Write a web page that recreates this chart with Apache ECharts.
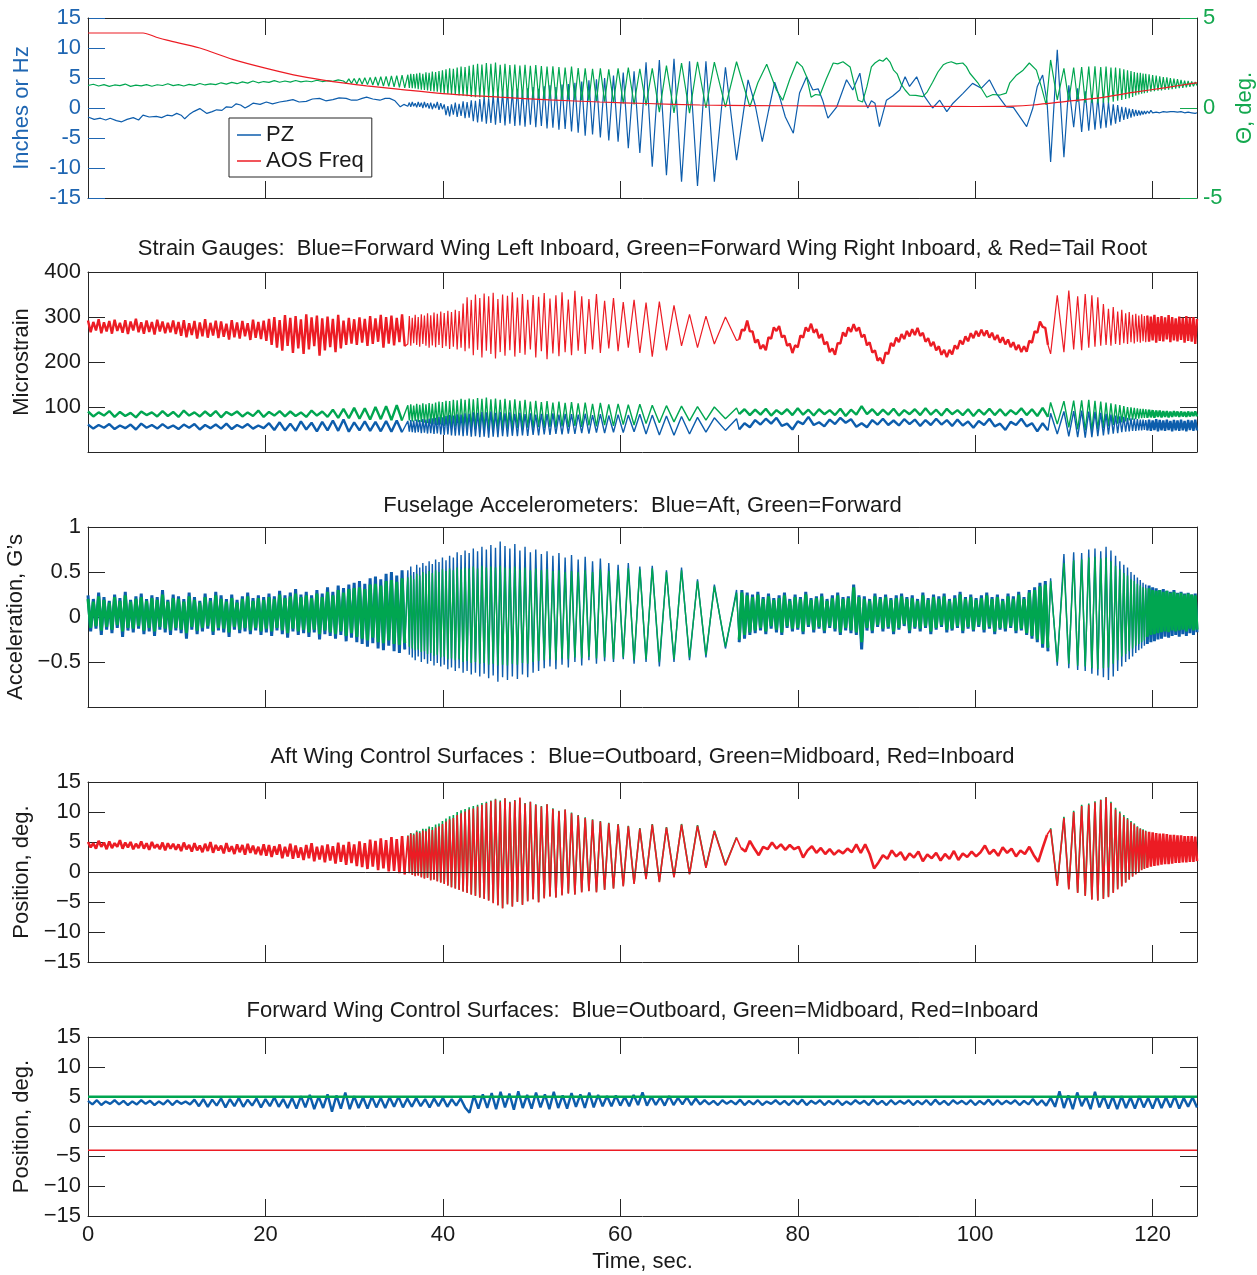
<!DOCTYPE html>
<html>
<head>
<meta charset="utf-8">
<title>Flutter test time histories</title>
<script src="https://cdn.jsdelivr.net/npm/echarts@6/dist/echarts.min.js"></script>
<style>
  html, body { margin: 0; padding: 0; background: #fff; }
  #chart { width: 1257px; height: 1275px; }
</style>
</head>
<body>
<div id="chart"></div>
<script>
// Time bases: peaks/troughs of the forcing sweep
const tB = [36.05,36.22,36.38,36.55,36.71,36.88,37.05,37.22,37.39,37.57,37.74,37.92,38.09,38.27,38.45,38.63,38.81,39.0,39.18,39.37,
  39.56,39.76,39.95,40.15,40.35,40.56,40.76,40.97,41.18,41.4,41.61,41.83,42.05,42.28,42.5,42.73,42.96,43.2,43.43,43.67,
  43.91,44.16,44.4,44.65,44.9,45.16,45.41,45.67,45.93,46.2,46.46,46.73,47.0,47.28,47.55,47.83,48.11,48.4,48.68,48.97,
  49.26,49.56,49.86,50.17,50.47,50.79,51.1,51.42,51.74,52.07,52.4,52.74,53.08,53.43,53.78,54.14,54.5,54.88,55.25,55.65,
  56.04,56.46,56.87,57.31,57.75,58.23,58.7,59.23,59.75,60.33,60.9,61.55,62.2,62.9,63.6,64.4,65.2,66.05,66.9,67.8,
  68.7,69.65,70.6,71.85,73.1];
const tD = [108.5,109.25,110.0,110.55,111.1,111.55,112.0,112.4,112.8,113.15,113.5,113.82,114.15,114.45,114.75,115.02,115.3,115.56,115.82,116.06,
  116.3,116.52,116.75,116.96,117.17,117.36,117.56,117.74,117.93,118.1,118.28,118.44,118.61,118.76,118.92,119.07,119.22];
const endTimes = [0, 125];

// ---- Panel 1: PZ (in), AOS frequency (Hz), Theta (deg)
const pzA = [[0,-1.5],[0.7,-1.9],[1.4,-1.7],[2,-2.0],[2.5,-1.7],[3.2,-2.1],[3.8,-2.3],[4.4,-1.9],[5.1,-1.6],[5.7,-2.0],[6.2,-1.2],[6.9,-1.5],
  [7.7,-1.4],[8.3,-1.6],[8.9,-1.2],[9.5,-1.3],[10,-0.9],[10.5,-1.2],[10.9,-1.8],[11.4,-1.1],[11.9,-0.6],[12.6,-0.1],[13.4,-0.9],[14,-0.6],
  [14.5,-0.3],[15.1,-0.4],[15.6,0.2],[16.2,0.1],[16.7,0.7],[17.2,0.5],[17.7,0],[18.2,0.4],[18.6,0.8],[19.4,0.6],[20.1,1.0],[20.8,0.7],
  [21.6,1.0],[22.4,1.2],[23.1,1.4],[23.8,1.0],[24.6,1.1],[25.3,1.5],[26.1,1.6],[26.8,1.2],[27.6,1.4],[28.3,1.7],[29.1,1.6],[29.7,1.3],
  [30.3,1.3],[30.9,1.6],[31.4,1.8],[32.1,1.5],[32.9,1.3],[33.5,1.6],[34,1.6],[34.6,1.2],[35.2,0.2],[35.6,0.6]];
const pzB = [0.3,0.9,0.2,1.0,0.3,0.8,0.1,1.0,0.2,0.9,0.0,1.0,0.1,0.8,-0.1,0.9,-0.2,0.7,0.0,1.0,
  -0.3,0.8,-0.2,0.6,-1.2,0.3,-1.4,0.6,-1.1,0.9,-1.5,0.7,-1.3,1.1,-1.7,1.0,-1.6,1.3,-2.2,1.2,
  -2.4,1.5,-2.3,1.9,-2.6,1.6,-2.5,2.2,-2.8,2.4,-2.5,2.6,-2.9,3.0,-2.6,2.8,-3.0,3.2,-2.9,2.9,
  -3.1,3.3,-2.8,3.5,-3.2,3.2,-3.0,3.6,-3.4,3.8,-3.3,3.5,-3.6,3.9,-3.5,4.0,-3.9,4.2,-4.1,4.4,
  -4.6,4.6,-4.4,4.8,-4.9,5.0,-5.4,5.4,-5.6,5.9,-6.7,6.1,-7.5,7.6,-9.8,8.0,-11.2,8.2,-12.3,7.8,
  -13.0,7.8,-12.3,6.8,-8.7];
const pzC = [[74.4,4.7],[75.2,0.5],[76,-5.6],[76.7,-0.5],[77.4,4.3],[78,1.6],[78.6,-1.5],[79.5,-4.2],[80.2,2.5],[81,5.2],[81.7,3],[82.3,3.2],
  [82.8,1.3],[83.4,-1.7],[84.4,0.2],[85.5,4.7],[86.2,3],[87,5.8],[87.5,1.3],[87.9,0],[88.3,1.2],[88.7,0.8],[89.2,-3.1],[90,1.3],[90.7,2],
  [91.5,3],[92.1,5.2],[92.6,3.6],[93.4,5.2],[94.3,1.9],[95.2,0],[96,1.3],[96.8,-0.6],[97.5,0.8],[98.6,2.4],[99.7,4.1],[100.7,3.3],
  [101.6,4.7],[102.4,2.4],[103.5,0.2],[104.3,0.1],[105,-1.4],[105.8,-3.1],[106.5,0],[107,3.6],[107.6,5.5],[108.1,1.0]];
const pzD = [-9.0,9.7,-8.2,3.8,-3.2,3.3,-4.0,2.8,-3.8,2.2,-3.6,1.8,-3.4,1.3,-3.3,1.0,-2.9,0.6,-2.6,0.5,
  -2.3,0.2,-2.0,0.1,-1.8,-0.1,-1.6,-0.2,-1.4,-0.3,-1.3,-0.4,-1.2,-0.5,-1.1,-0.5,-1.0];
const pzE = [-0.5,-0.9,-0.4,-0.8,-0.5,-0.7,-0.4,-0.8,-0.5,-0.6,-0.4,-0.7,-0.5,-0.6,-0.4,-0.6,-0.5,-0.7,-0.5,-0.6,
  -0.6,-0.8,-0.6,-0.7,-0.6,-0.8,-0.7,-0.9,-0.8];

const aosFreq = [[0,12.5],[6.2,12.5],[7.7,11.8],[8.9,11.3],[12.6,10],[16.3,8.1],[20.1,6.6],[23.9,5.3],[27.6,4.4],[31.4,3.7],[35.2,3.1],
  [40,2.4],[46.4,1.8],[52,1.35],[57.7,1.0],[63,0.75],[69,0.5],[75,0.4],[82.5,0.35],[90,0.3],[100,0.25],[104.3,0.3],[106.5,0.5],
  [110.3,1.1],[114,1.7],[117.8,2.6],[121.5,3.4],[124.5,4.1],[125,4.2]];

const thetaA1 = [1.25,1.32,1.22,1.3,1.2,1.28,1.24,1.33,1.2,1.27,1.23,1.3,1.21,1.29,1.25,1.35,1.24,1.3,1.22,1.31,
  1.26,1.36,1.28,1.34,1.3,1.4,1.33,1.42,1.35,1.45,1.38,1.5,1.4,1.47,1.42,1.52,1.43,1.5,1.44,1.53,
  1.45,1.5,1.46,1.54,1.47,1.52,1.48,1.56,1.5];
const thetaA2 = [1.38,1.62,1.36,1.64,1.33,1.66,1.32,1.68,1.3,1.7,1.28,1.72,1.25,1.74,1.22,1.76,1.2,1.78,1.18,1.8,1.15,1.82,1.12];
const thetaB = [1.85,1.12,1.9,1.1,1.88,1.08,1.92,1.05,1.95,1.02,1.9,1.0,1.98,0.98,1.96,0.95,2.02,0.92,2.0,0.9,
  2.05,0.85,2.1,0.8,2.15,0.78,2.2,0.75,2.18,0.72,2.25,0.7,2.3,0.68,2.28,0.65,2.35,0.62,2.4,0.6,
  2.45,0.58,2.42,0.57,2.5,0.55,2.45,0.58,2.52,0.55,2.4,0.56,2.46,0.55,2.38,0.57,2.42,0.54,2.36,0.56,
  2.4,0.52,2.35,0.5,2.38,0.52,2.33,0.48,2.3,0.5,2.32,0.47,2.28,0.45,2.25,0.46,2.3,0.43,2.22,0.42,
  2.2,0.4,2.18,0.38,2.2,0.35,2.15,0.3,2.2,0.25,2.25,0.2,2.18,0.15,2.2,-0.23,2.35,-0.27,2.5,-0.28,
  2.57,0.0,2.55,0.05,2.57];
const thetaC = [[74.6,0.07],[75.5,1.4],[76.5,2.43],[77.6,1.0],[78.3,0.43],[79.1,1.6],[79.9,2.57],[80.5,2.3],[81.0,1.73],[81.5,0.6],
  [82.0,0.75],[82.5,0.72],[83.2,1.6],[84.0,2.5],[84.5,2.45],[85.1,2.57],[85.9,2.28],[86.8,0.43],[87.3,0.33],[87.8,1.2],[88.3,2.28],
  [88.7,2.5],[89.2,2.67],[89.6,2.6],[90.0,2.78],[90.4,2.55],[90.8,2.1],[91.2,1.9],[91.7,1.28],[92.1,1.0],[92.6,0.72],[93.3,0.7],
  [94.1,0.63],[94.6,0.9],[95.2,1.43],[95.8,2.0],[96.4,2.4],[96.8,2.5],[97.3,2.57],[97.9,2.45],[98.6,2.5],[99.0,2.3],[99.4,1.93],
  [100.3,1.4],[100.8,1.0],[101.3,0.6],[102.0,0.75],[102.8,0.72],[103.5,0.83],[103.9,1.4],[104.6,1.8],[105.4,2.1],[106.1,2.5],
  [106.9,2.1],[107.5,1.1],[108.0,0.17]];
const thetaD = [2.67,0.45,2.2,0.4,2.25,0.35,2.28,0.3,2.3,0.28,2.32,0.25,2.28,0.3,2.3,0.3,2.25,0.35,2.25,0.4,
  2.2,0.45,2.15,0.5,2.1,0.55,2.05,0.62,2.0,0.7,1.95,0.75,1.95,0.8,1.92,0.82,1.9];
const thetaE = [0.85,1.87,0.9,1.83,0.93,1.8,0.96,1.76,0.98,1.72,1.0,1.7,1.02,1.66,1.05,1.63,1.08,1.6,1.1,1.56,
  1.12,1.52,1.15,1.5,1.18,1.47,1.2,1.45,1.25];

// ---- Panel 2: strain gauges (microstrain)
const tailA = [292,266,289,270,295,264,288,268,291,263,294,269,287,265,293,262,290,270,296,266,288,263,292,267,289,261,294,268,290,264,287,266,292,262,
  289,258,293,255,286,260,291,252,288,257,295,254,287,259,292,253,290,256,285,250,293,255,288,252,291,257,286,249,294,254,289,251,292,
  247,296,238,300,232,293,225,304,236,298,220,302,230,295,218,306,228,299,235,303,214,297,226,301,233,296,222,305,230,292,238,298,241,295,
  238,299,243,296,236,302,240,297,245,305,232,300,241,303,237,298,244,306,235];
const tailB = [240,302,236,298,242,305,238,300,234,306,240,303,236,308,232,304,237,310,233,307,
  238,312,231,309,235,314,229,311,234,316,228,313,232,330,224,344,230,338,215,350,
  227,342,210,352,225,346,218,354,208,340,222,350,214,347,226,355,212,343,220,351,
  216,338,228,349,210,345,224,353,206,341,219,348,213,355,222,339,215,358,225,346,
  218,340,228,351,220,336,230,342,224,333,232,338,220,332,212,334,226,326,236,306,
  232,302,240,300,248];
const tailC = [250,272,270,292,268,268,243,250,229,238,226,255,252,277,269,280,255,259,236,241,
  220,237,233,259,254,277,268,285,265,273,253,262,239,245,222,230,216,242,241,266,
  257,277,267,284,269,277,255,261,237,244,221,226,203,209,196,221,218,242,235,254,
  244,262,251,269,257,273,260,276,258,265,245,253,235,245,226,235,216,227,211,227,
  217,237,229,248,239,257,246,264,253,269,257,272,258,270,254,265,249,260,243,255,
  239,250,233,244,227,238,222,235,223,247,243,268,265,290,278,276,238];
const tailD = [218,348,222,359,228,346,226,351,232,348,234,344,236,329,238,318,236,322,240,312,
  238,316,242,308,240,311,244,305,241,307,245,303,243,306,246,302,244];
const tailE = [303,245,301,248,305,243,300,247,302,246,299,250,304,244,300,248,297,246,301,249,298,243,302,247,299,245,300,240,296];

const rightInA = [90,79,88,81,91,78,89,80,87,77,90,82,88,79,91,80,89,78,92,81,88,79,90,80,91,77,89,82,90,79,
  88,80,92,78,89,81,91,79,90,80,88,78,92,81,90,78,94,76,96,75,98,74,97,72,100,73,102,71,104,70];
const rightInB = [104,70,106,68,103,69,107,66,105,67,108,65,106,64,109,63,107,62,110,60,
  112,61,111,58,114,57,113,55,116,56,115,53,118,54,116,51,119,52,117,50,
  120,51,118,49,121,50,117,48,119,51,116,49,118,52,115,50,117,53,114,51,
  116,54,112,52,114,55,111,53,113,56,110,54,112,57,109,55,111,58,108,56,
  110,59,107,57,109,60,106,58,107,61,105,60,106,63,104,65,103,67,102,69,
  101,71,100,74,98];
const rightInC = [84,95,82,94,83,96,81,93,84,95,82,97,83,94,81,95,84,93,82,96,80,94,83,102,84,95,82,94,83,96,
  81,93,84,95,82,97,83,94,81,96,84,93,82,95,80,94,83,96,82,95,81,93,84,97,82,95,80,98,78];
const rightInD = [110,62,113,55,114,50,115,48,116,47,114,50,112,53,110,57,108,60,106,63,104,66,102,68,100,70,99,72,98,73,97,74,96,75,96,76,95];
const rightInE = [76,94,77,93,76,92,78,92,77,91,78,91,77,90,78,91,79,90,78,90,79,89,78,90,79,89,80,90,79];

const leftInA = [61,52,60,54,62,51,59,53,61,50,63,54,60,52,62,53,59,51,61,54,62,50,60,53,61,52,63,51,60,54,62,52,59,53,
  64,49,66,48,63,47,68,50,65,46,67,48,70,47,72,45,66,48,68,47,67,46,69,45,70,44];
const leftInB = [69,45,71,44,70,43,72,44,71,42,73,43,72,41,74,42,75,40,76,41,
  78,39,77,38,80,39,82,37,81,36,84,37,83,35,86,36,85,34,88,35,
  87,33,89,34,88,32,90,34,87,33,89,35,86,34,88,36,85,35,87,37,
  84,36,86,38,83,37,85,39,84,38,86,40,83,39,85,41,84,40,83,42,
  85,41,82,43,84,42,81,44,83,43,82,45,84,40,82,38,80,37,79,40,
  77,44,76,48,74];
const leftInC = [50,64,55,71,61,74,63,76,58,63,50,68,62,78,60,66,57,72,62,76,65,73,56,64,55,71,61,74,60,70,
  59,73,62,72,58,71,60,74,61,71,58,72,59,68,54,69,60,74,57,63,49,67,60,74,57,64,46,64,48];
const leftInD = [86,40,90,35,91,33,92,32,90,33,89,35,87,37,85,39,83,41,81,42,79,44,78,45,76,46,75,47,74,47,73,48,72,48,72,49,71];
const leftInE = [48,72,47,70,49,73,46,71,48,70,47,72,49,69,46,71,48,70,47,72,48,69,46,71,49,70,47,72,48];

// ---- Panel 3: fuselage accelerometers (g)
const aftA = [.24,-.16,.2,-.13,.27,-.2,.22,-.14,.18,-.18,.25,-.12,.21,-.22,.28,-.15,.19,-.17,.23,-.13,.26,-.19,.2,-.16,.24,-.21,.22,-.14,.3,-.17,.19,-.2,.25,-.15,
  .23,-.18,.2,-.24,.27,-.14,.22,-.19,.18,-.16,.26,-.13,.21,-.2,.28,-.15,.24,-.17,.2,-.22,.25,-.14,.19,-.18,.23,-.16,.27,-.19,.21,-.15,.24,-.2,.22,
  -.17,.26,-.21,.23,-.15,.29,-.19,.24,-.23,.27,-.16,.31,-.2,.25,-.18,.28,-.22,.24,-.17,.3,-.25,.26,-.19,.33,-.21,.28,-.24,.35,-.2,.32,-.27,.36,-.23,.38,
  -.28,.4,-.3,.37,-.33,.43,-.29,.45,-.35,.42,-.37,.48,-.32,.5,-.38,.46,-.4,.52,-.36];
const aftB = [.52,-.42,.56,-.45,.5,-.48,.58,-.44,.55,-.5,.6,-.47,.57,-.52,.62,-.49,.59,-.54,.64,-.51,
  .61,-.55,.66,-.53,.63,-.58,.68,-.56,.66,-.6,.72,-.57,.69,-.62,.74,-.6,.71,-.64,.76,-.62,
  .73,-.66,.78,-.63,.75,-.68,.8,-.65,.77,-.72,.84,-.67,.79,-.7,.76,-.66,.81,-.69,.74,-.64,
  .78,-.67,.72,-.62,.75,-.6,.7,-.57,.73,-.55,.68,-.58,.71,-.53,.66,-.56,.69,-.5,.64,-.54,
  .67,-.48,.62,-.52,.65,-.49,.6,-.5,.58,-.47,.6,-.52,.56,-.5,.57,-.55,.52,-.5,.55,-.48,
  .42,-.45,.36,-.35,.3];
const aftC = [-.28,.3,-.24,.27,-.2,.25,-.18,.28,-.15,.22,-.19,.26,-.13,.21,-.17,.24,-.2,.27,-.12,.2,-.16,.25,-.14,.22,-.19,.28,-.11,.21,-.17,.23,
  -.13,.26,-.18,.2,-.12,.24,-.16,.27,-.2,.22,-.15,.23,-.18,.36,-.2,.24,-.36,.23,-.15,.2,-.18,.26,-.11,.22,-.16,.25,-.13,.21,-.19,.24,
  -.14,.26,-.1,.22,-.18,.24,-.13,.2,-.16,.27,-.12,.21,-.19,.25,-.14,.23,-.11,.26,-.17,.2,-.15,.24,-.12,.28,-.18,.22,-.13,.25,-.16,.21,
  -.11,.24,-.17,.27,-.13,.22,-.19,.25,-.14,.2,-.16,.26,-.12,.23,-.18,.28,-.15,.22,-.2,.3,-.24,.33,-.28,.38,-.34,.4,-.38];
const aftD = [.43,-.54,.7,-.57,.72,-.59,.71,-.6,.75,-.63,.76,-.65,.73,-.67,.78,-.7,.74,-.66,.68,-.6,
  .62,-.55,.58,-.5,.55,-.47,.5,-.44,.47,-.4,.44,-.37,.41,-.35,.38,-.32,.36];
const aftE = [-.3,.35,-.28,.33,-.27,.32,-.25,.3,-.24,.31,-.22,.29,-.23,.28,-.21,.3,-.2,.27,-.22,.28,-.19,.26,-.21,.27,-.18,.25,-.2,.26,-.17];

const fwdA = [.2,-.12,.17,-.1,.23,-.15,.19,-.11,.16,-.14,.22,-.09,.18,-.16,.24,-.12,.17,-.13,.2,-.1,.22,-.15,.18,-.12,.21,-.16,.19,-.11,.25,-.13,.17,-.15,.21,-.12,
  .2,-.14,.17,-.18,.23,-.11,.19,-.15,.16,-.12,.22,-.1,.18,-.16,.24,-.12,.2,-.13,.17,-.17,.21,-.11,.16,-.14,.2,-.12,.23,-.15,.18,-.12,.21,-.16,.19,
  -.13,.22,-.16,.2,-.12,.25,-.15,.21,-.18,.23,-.13,.26,-.16,.22,-.14,.24,-.17,.21,-.14,.26,-.19,.22,-.15,.28,-.17,.24,-.19,.3,-.16,.27,-.21,.31,-.18,.32,
  -.22,.33,-.24,.31,-.26,.36,-.23,.37,-.28,.35,-.29,.4,-.26,.41,-.3,.39,-.31,.43,-.29];
const fwdB = [.44,-.33,.46,-.35,.42,-.37,.48,-.36,.46,-.39,.5,-.38,.48,-.41,.51,-.4,.49,-.43,.52,-.42,
  .5,-.45,.53,-.44,.51,-.47,.54,-.46,.52,-.48,.55,-.47,.53,-.5,.55,-.49,.54,-.51,.56,-.5,
  .54,-.52,.57,-.51,.55,-.53,.56,-.52,.55,-.54,.57,-.53,.55,-.54,.54,-.52,.56,-.53,.53,-.51,
  .55,-.52,.52,-.5,.54,-.49,.52,-.48,.53,-.47,.51,-.48,.52,-.46,.5,-.47,.51,-.45,.5,-.46,
  .52,-.44,.5,-.46,.53,-.45,.51,-.47,.52,-.45,.54,-.48,.53,-.47,.54,-.5,.5,-.47,.52,-.45,
  .4,-.42,.34,-.33,.27];
const fwdC = [-.25,.27,-.2,.24,-.17,.22,-.15,.25,-.12,.2,-.16,.23,-.1,.19,-.14,.21,-.17,.24,-.1,.18,-.13,.22,-.12,.2,-.16,.25,-.09,.19,-.14,.21,
  -.11,.23,-.15,.18,-.1,.21,-.13,.24,-.17,.2,-.12,.21,-.15,.33,-.17,.22,-.28,.2,-.12,.18,-.15,.23,-.09,.2,-.13,.22,-.11,.19,-.16,.21,
  -.12,.23,-.08,.2,-.15,.21,-.11,.18,-.13,.24,-.1,.19,-.16,.22,-.12,.2,-.09,.23,-.14,.18,-.13,.21,-.1,.25,-.15,.2,-.11,.22,-.14,.19,
  -.09,.21,-.14,.24,-.11,.2,-.16,.22,-.12,.18,-.13,.23,-.1,.2,-.15,.25,-.13,.2,-.18,.27,-.21,.3,-.25,.34,-.3,.36,-.34];
const fwdD = [.4,-.5,.6,-.52,.63,-.54,.64,-.55,.66,-.57,.67,-.58,.65,-.57,.66,-.56,.62,-.52,.57,-.48,
  .53,-.44,.49,-.41,.46,-.38,.42,-.35,.4,-.32,.37,-.3,.35,-.28,.33,-.26,.32];
const fwdE = [-.22,.32,-.2,.3,-.19,.29,-.18,.3,-.17,.28,-.16,.29,-.17,.27,-.15,.28,-.16,.26,-.15,.27,-.14,.25,-.16,.26,-.13,.25,-.15,.24,-.14];

// ---- Panel 4: aft wing control surfaces (deg)
const aftInA = [5.0,4.1,4.8,3.9,5.2,4.2,4.9,3.8,5.1,4.0,4.8,4.2,5.3,3.9,4.9,4.1,5.0,3.8,4.7,4.0,5.1,3.9,4.8,3.7,5.0,4.0,4.6,3.8,4.9,3.6,4.8,3.9,4.7,3.7,
  4.6,3.5,4.9,3.8,4.5,3.4,4.8,3.6,4.4,3.3,4.7,3.5,5.0,3.2,4.5,3.6,4.4,3.1,4.8,3.4,4.3,3.0,4.6,3.3,4.5,2.9,4.7,3.2,4.4,3.0,4.2,2.8,4.6,
  2.7,4.5,2.5,4.3,2.9,4.6,2.3,4.2,2.6,4.7,2.2,4.4,2.4,4.1,2.0,4.5,2.3,4.8,1.8,4.2,2.1,4.4,1.6,4.6,1.9,4.3,1.4,4.9,1.7,4.5,1.2,5.0,1.5,4.6,
  1.0,5.1,0.8,4.8,0.5,5.4,0.9,5.2,0.3,5.6,0.6,5.3,0.1,5.8,0.2,5.5,-0.2,6.0,-0.4];
const aftInB = [6.0,-0.2,6.4,-0.5,6.2,-0.7,6.7,-0.6,6.5,-0.9,6.9,-1.1,6.8,-1.0,7.2,-1.4,7.0,-1.3,7.4,-1.6,
  7.6,-1.8,8.0,-2.0,8.4,-2.3,8.8,-2.6,9.0,-2.8,9.5,-3.0,9.8,-3.3,10.1,-3.5,10.4,-3.8,10.6,-4.0,
  10.9,-4.3,11.2,-4.5,11.5,-4.8,11.8,-5.2,12.1,-5.6,11.7,-6.1,12.3,-5.4,11.6,-5.8,11.9,-5.0,12.4,-5.5,
  11.4,-4.9,11.7,-4.6,11.2,-5.1,10.9,-4.4,11.3,-4.1,10.5,-4.3,10.1,-3.9,10.4,-3.6,9.8,-3.8,9.4,-3.4,
  9.0,-3.2,8.7,-3.4,8.4,-3.0,8.1,-2.8,7.9,-2.4,7.6,-2.0,7.2,-1.2,7.9,-1.7,7.4,-0.9,7.9,-0.4,
  7.7,0.7,6.8,1.1,5.7];
const aftInC = [4.0,3.4,5.2,3.9,2.8,4.2,3.8,4.9,3.9,4.6,3.7,4.5,3.8,4.2,2.4,3.6,4.3,3.2,4.0,3.0,
  3.8,2.9,3.6,3.1,3.9,3.3,4.6,3.2,4.6,3.0,0.6,1.6,2.8,2.2,3.6,2.6,3.3,2.0,3.1,2.4,
  3.4,1.8,2.9,2.3,3.2,1.9,3.0,2.2,3.5,2.0,3.1,2.5,3.4,2.6,3.3,4.4,3.0,3.7,2.7,4.1,
  3.2,3.9,2.6,3.6,3.0,4.2,2.8,1.7,4.0,6.2];
const aftInD = [7.1,-2.3,9.0,-2.9,10.0,-3.5,11.0,-4.0,11.2,-4.6,11.6,-4.8,12.0,-4.5,12.4,-4.2,11.5,-3.5,10.4,-2.9,
  9.8,-2.4,9.2,-1.8,8.8,-1.3,8.3,-0.8,7.9,-0.4,7.5,0.0,7.2,0.3,7.0,0.5,6.8];
const aftInE = [0.7,6.7,0.9,6.6,1.0,6.5,1.1,6.4,1.2,6.4,1.3,6.3,1.3,6.2,1.4,6.2,1.5,6.1,1.5,6.1,1.6,6.0,1.6,6.0,1.7,6.0,1.7,5.9,1.8];
const aftMidB = [6.1,-0.1,6.5,-0.4,6.4,-0.6,6.9,-0.5,6.8,-0.8,7.2,-1.0,7.2,-0.9,7.6,-1.3,7.5,-1.2,7.9,-1.5,
  8.1,-1.7,8.5,-1.9,8.9,-2.2,9.3,-2.5,9.5,-2.7,10.0,-2.9,10.3,-3.2,10.5,-3.4,10.8,-3.7,11.0,-3.9,
  11.2,-4.2,11.5,-4.4,11.7,-4.7,11.9,-5.1,12.2,-5.5,11.9,-6.0,12.3,-5.3,11.7,-5.7,12.0,-4.9,12.3,-5.4,
  11.5,-4.8,11.7,-4.5,11.3,-5.0,11.0,-4.3,11.3,-4.0,10.6,-4.2,10.2,-3.8,10.4,-3.5,9.9,-3.7,9.5,-3.3,
  9.1,-3.1,8.8,-3.3,8.5,-2.9,8.2,-2.7,8.0,-2.3,7.7,-1.9,7.3,-1.1,8.0,-1.6,7.5,-0.8,8.0,-0.3,
  7.8,0.8,6.9,1.2,5.8];
const aftMidD = [7.3,-2.2,9.2,-2.8,10.2,-3.4,11.2,-3.9,11.4,-4.5,11.8,-4.7,12.1,-4.4,12.5,-4.1,11.7,-3.4,10.7,-2.8,
  10.1,-2.3,9.5,-1.7,9.0,-1.2,8.5,-0.7,8.1,-0.3,7.6,0.1,7.3,0.4,7.1,0.6,6.9];

// ---- Panel 5: forward wing control surfaces (deg), one sample every 0.5 s for outboard
const fwdOut = [4.3,3.7,4.4,3.6,4.2,3.8,4.4,3.7,4.3,3.6,4.2,3.7,4.4,3.8,4.3,3.6,4.2,3.7,4.4,3.6,4.3,3.8,4.2,3.7,4.5,
  3.4,4.6,3.3,4.5,3.5,4.7,3.2,4.6,3.4,4.8,3.3,4.5,3.5,4.7,3.2,4.6,3.4,4.9,3.3,4.6,3.1,4.8,
  3.0,5.1,3.2,5.3,2.9,5.0,3.1,5.4,2.5,5.2,3.0,5.7,2.9,5.1,
  3.1,4.9,3.0,5.0,3.2,4.8,3.1,4.9,3.3,5.0,3.2,4.7,
  3.3,4.8,3.4,4.6,3.2,4.7,3.4,4.8,3.3,4.6,3.5,4.7,
  3.2,2.3,5.2,3.0,5.4,3.1,5.6,2.9,5.8,3.2,5.5,2.8,5.9,3.1,5.3,3.0,5.7,3.2,5.4,2.9,5.8,3.1,5.2,3.0,5.6,3.3,5.4,3.1,5.7,3.2,5.3,3.4,
  5.1,3.4,5.2,3.5,5.0,3.4,5.3,3.6,5.7,3.5,5.0,3.6,4.9,3.5,5.1,3.6,4.8,3.7,4.9,3.6,4.7,3.7,
  4.4,3.7,4.3,3.6,4.4,3.8,4.3,3.7,4.5,3.6,4.3,3.7,4.4,3.6,4.2,3.8,4.4,3.7,4.3,3.6,
  4.4,3.7,4.5,3.6,4.3,3.8,4.4,3.6,4.3,3.7,4.4,3.6,4.2,3.7,4.4,3.8,4.3,3.6,4.5,3.7,
  4.3,3.6,4.4,3.7,4.3,3.8,4.4,3.6,4.3,3.7,4.4,3.6,4.5,3.7,4.3,3.6,4.4,3.8,4.3,3.7,
  4.4,3.6,4.3,3.7,4.5,3.6,4.4,3.7,4.3,3.8,4.4,3.6,4.3,3.7,4.6,3.6,4.4,3.5,
  4.8,3.3,5.9,3.1,5.2,2.9,5.7,3.4,5.0,2.9,5.8,3.2,5.1,3.0,
  5.0,2.9,5.1,3.1,4.9,3.0,5.1,3.2,4.8,3.0,5.0,3.1,4.9,3.2,5.1,3.0,4.8,3.3,4.9,3.2];
const fwdMid = [5.0, 5.0];
const fwdIn = [-4.0, -4.0];

// ---- helpers
const FONT = "'Liberation Sans', Arial, Helvetica, sans-serif";
const FS = 22;
const INK = '#262626';
const TXT = '#1a1a1a';
const BLUE = '#0d5dac', GREEN = '#00a650', RED = '#ec1c24';
const AXBLUE = '#1f66b2', AXGREEN = '#14a84f';

function onGrid(t0, dt, vals) {
  return vals.map((v, i) => [Math.round((t0 + i * dt) * 100) / 100, v]);
}
function onTimes(ts, vals) {
  return vals.slice(0, ts.length).map((v, i) => [ts[i], v]);
}
const minusFmt = v => (v < 0 ? '\u2212' + Math.abs(v) : String(v));
const last = arr => arr[arr.length - 1];
const breakAt = (a, b) => [(a[0] + b[0]) / 2, null];

function line(name, data, color, g, yIdx, width, extra) {
  return Object.assign({
    name, type: 'line', data, xAxisIndex: 2 * g, yAxisIndex: yIdx,
    symbol: 'none', showSymbol: false, silent: true, animation: false,
    lineStyle: { color, width: width || 1.2 }, itemStyle: { color },
    emphasis: { disabled: true }
  }, extra || {});
}

// noisy stretches (A, C, E) are drawn heavier than the resolved sweep (B, D)
function sweep(name, color, g, yIdx, A, B, C, D, E, thinW, thickW, extra) {
  const thin = [last(A), ...B, C[0], breakAt(C[0], last(C)), last(C), ...D, E[0]];
  const thick = [...A, breakAt(last(A), C[0]), ...C, breakAt(last(C), E[0]), ...E];
  return [line(name + ' (noise)', thick, color, g, yIdx, thickW), line(name, thin, color, g, yIdx, thinW, extra)];
}

const pzData = [...pzA, ...onTimes(tB, pzB), ...pzC, ...onTimes(tD, pzD), ...onGrid(119.4, 0.2, pzE)];
const thetaData = [...onGrid(0, 0.6, thetaA1), ...onGrid(29.1, 0.3, thetaA2), ...onTimes(tB, thetaB), ...thetaC,
  ...onTimes(tD, thetaD), ...onGrid(119.4, 0.2, thetaE)];
const aftMidData = [...onTimes(tB, aftMidB), [91, null], ...onTimes(tD, aftMidD)];
const fwdOutData = onGrid(0, 0.5, fwdOut);
const fwdMidData = onTimes(endTimes, fwdMid);
const fwdInData = onTimes(endTimes, fwdIn);

// ---- layout
const tops = [18, 272, 527, 782, 1037];
const grid = tops.map((t, i) => ({ left: 88, top: t, width: 1109, height: i === 4 ? 179 : 180, outerBoundsMode: 'none' }));

const xAxis = [];
tops.forEach((t, i) => {
  const bottomPanel = i === 4;
  const base = {
    type: 'value', gridIndex: i, min: 0, max: 125, interval: 20,
    splitLine: { show: false },
    axisLine: { show: true, onZero: false, lineStyle: { color: INK, width: 1 } },
    axisTick: { show: true, inside: true, length: 17, lineStyle: { color: INK, width: 1 } }
  };
  xAxis.push(Object.assign({}, base, {
    position: 'bottom',
    axisLabel: { show: bottomPanel, showMaxLabel: false, fontSize: FS, color: TXT, fontFamily: FONT, margin: 8 },
    name: bottomPanel ? 'Time, sec.' : '', nameLocation: 'middle', nameGap: 35,
    nameTextStyle: { fontSize: FS, color: TXT, fontFamily: FONT }
  }));
  xAxis.push(Object.assign({}, base, { position: 'top', axisLabel: { show: false } }));
});

function yPair(g, min, max, step, name, gap, opts) {
  opts = opts || {};
  const tickCol = opts.tickColor || INK;
  const left = {
    type: 'value', gridIndex: g, position: 'left', min, max, interval: step,
    splitLine: { show: false },
    axisLine: { show: true, onZero: false, lineStyle: { color: INK, width: 1 } },
    axisTick: { show: true, inside: true, length: 17, lineStyle: { color: tickCol, width: 1 } },
    axisLabel: { fontSize: FS, color: opts.labelColor || TXT, fontFamily: FONT, margin: 7,
      showMinLabel: opts.showMin !== false, formatter: opts.fmt },
    name, nameLocation: 'middle', nameRotate: 90, nameGap: gap,
    nameTextStyle: { fontSize: FS, color: opts.labelColor || TXT, fontFamily: FONT }
  };
  const right = opts.right || {
    type: 'value', gridIndex: g, position: 'right', min, max, interval: step,
    splitLine: { show: false },
    axisLine: { show: true, onZero: false, lineStyle: { color: INK, width: 1 } },
    axisTick: { show: true, inside: true, length: 17, lineStyle: { color: INK, width: 1 } },
    axisLabel: { show: false }
  };
  return [left, right];
}

const yAxis = [
  ...yPair(0, -15, 15, 5, 'Inches or Hz', 55, {
    labelColor: AXBLUE, tickColor: AXBLUE,
    right: {
      type: 'value', gridIndex: 0, position: 'right', min: -5, max: 5, interval: 5,
      splitLine: { show: false },
      axisLine: { show: true, onZero: false, lineStyle: { color: INK, width: 1 } },
      axisTick: { show: true, inside: true, length: 17, lineStyle: { color: AXGREEN, width: 1 } },
      axisLabel: { fontSize: FS, color: AXGREEN, fontFamily: FONT, margin: 6 },
      name: '\u0398, deg.', nameLocation: 'middle', nameRotate: 90, nameGap: 22,
      nameTextStyle: { fontSize: FS, color: AXGREEN, fontFamily: FONT }
    }
  }),
  ...yPair(1, 0, 400, 100, 'Microstrain', 53, { showMin: false }),
  ...yPair(2, -1, 1, 0.5, "Acceleration, G\u2019s", 59, { showMin: false, fmt: minusFmt }),
  ...yPair(3, -15, 15, 5, 'Position, deg.', 53, { fmt: minusFmt }),
  ...yPair(4, -15, 15, 5, 'Position, deg.', 53, { fmt: minusFmt })
];

const zeroLine = {
  markLine: { silent: true, symbol: 'none', label: { show: false }, animation: false,
    lineStyle: { color: INK, width: 1, type: 'solid' }, data: [{ yAxis: 0 }] }
};

const series = [
  line('PZ', pzData, BLUE, 0, 0, 1.2),
  line('\u0398', thetaData, GREEN, 0, 1, 1.2),
  line('AOS Freq', aosFreq, RED, 0, 0, 1.2, { smooth: 0.3 }),
  ...sweep('Tail Root', RED, 1, 2, onGrid(0, 0.3, tailA), onTimes(tB, tailB), onGrid(73.4, 0.3, tailC), onTimes(tD, tailD), onGrid(119.4, 0.2, tailE), 1.2, 2.4),
  ...sweep('Forward Wing Right Inboard', GREEN, 1, 2, onGrid(0, 0.6, rightInA), onTimes(tB, rightInB), onGrid(73.4, 0.6, rightInC), onTimes(tD, rightInD), onGrid(119.4, 0.2, rightInE), 1.4, 2.4),
  ...sweep('Forward Wing Left Inboard', BLUE, 1, 2, onGrid(0, 0.6, leftInA), onTimes(tB, leftInB), onGrid(73.4, 0.6, leftInC), onTimes(tD, leftInD), onGrid(119.4, 0.2, leftInE), 1.4, 2.4),
  ...sweep('Aft', BLUE, 2, 4, onGrid(0, 0.3, aftA), onTimes(tB, aftB), onGrid(73.4, 0.3, aftC), onTimes(tD, aftD), onGrid(119.4, 0.2, aftE), 1.4, 3.0),
  ...sweep('Forward', GREEN, 2, 4, onGrid(0, 0.3, fwdA), onTimes(tB, fwdB), onGrid(73.4, 0.3, fwdC), onTimes(tD, fwdD), onGrid(119.4, 0.2, fwdE), 1.4, 3.0),
  line('Aft Midboard', aftMidData, GREEN, 3, 6, 1.6),
  ...sweep('Aft Inboard', RED, 3, 6, onGrid(0, 0.3, aftInA), onTimes(tB, aftInB), onGrid(73.6, 0.5, aftInC), onTimes(tD, aftInD), onGrid(119.4, 0.2, aftInE), 1.6, 2.6, zeroLine),
  line('Fwd Outboard', fwdOutData, BLUE, 4, 8, 2.4),
  line('Fwd Midboard', fwdMidData, GREEN, 4, 8, 2.5),
  line('Fwd Inboard', fwdInData, RED, 4, 8, 1.5, zeroLine)
];

const titleStyle = { fontSize: FS, fontWeight: 'normal', color: TXT, fontFamily: FONT };
const titles = [
  ['Strain Gauges:  Blue=Forward Wing Left Inboard, Green=Forward Wing Right Inboard, & Red=Tail Root', 238],
  ['Fuselage Accelerometers:  Blue=Aft, Green=Forward', 495],
  ['Aft Wing Control Surfaces :  Blue=Outboard, Green=Midboard, Red=Inboard', 746],
  ['Forward Wing Control Surfaces:  Blue=Outboard, Green=Midboard, Red=Inboard', 1000]
].map(([text, top]) => ({ text, left: 642.5, top, textAlign: 'center', padding: 0, textStyle: titleStyle }));

const chart = echarts.init(document.getElementById('chart'), null, { renderer: 'canvas' });
chart.setOption({
  backgroundColor: '#fff',
  animation: false,
  title: titles,
  legend: {
    data: ['PZ', 'AOS Freq'], orient: 'vertical', left: 229, top: 118,
    backgroundColor: '#fff', borderColor: INK, borderWidth: 1, borderRadius: 0,
    padding: [6, 8, 5, 8], itemGap: 4, itemWidth: 24, itemHeight: 1.5, icon: 'rect',
    textStyle: { fontSize: FS, color: TXT, fontFamily: FONT },
    selectedMode: false
  },
  grid, xAxis, yAxis, series
});
</script>
</body>
</html>
